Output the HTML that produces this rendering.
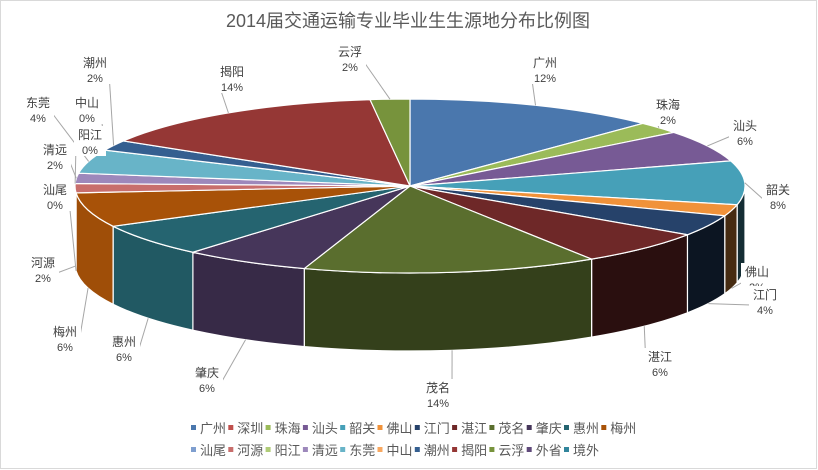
<!DOCTYPE html>
<html><head><meta charset="utf-8">
<style>
html,body{margin:0;padding:0;background:#fff;}
#chart{position:relative;width:818px;height:470px;overflow:hidden;font-family:"Liberation Sans","Noto Sans CJK SC",sans-serif;}
svg text{font-family:"Liberation Sans","Noto Sans CJK SC",sans-serif;}
</style></head>
<body>
<div id="chart">
<svg id="svg" width="818" height="470" viewBox="0 0 818 470">
<rect x="0.5" y="0.5" width="816" height="468" fill="#fff" stroke="#d9d9d9"/>
<text x="408" y="27" text-anchor="middle" font-size="18" fill="#595959">2014届交通运输专业毕业生生源地分布比例图</text>
<g id="sides"></g><g id="tops"></g><g id="lines"></g><g id="labels"></g><g id="legend"></g>
</svg>
</div>
<script>
const categories = ["广州","深圳","珠海","汕头","韶关","佛山","江门","湛江","茂名","肇庆","惠州","梅州","汕尾","河源","阳江","清远","东莞","中山","潮州","揭阳","云浮","外省","境外"];
const values = [12.2,0,2.2,5.9,8.1,2.1,3.9,6.4,14.2,6.1,6.1,6.4,0,1.7,0,1.9,4.4,0,1.9,14.4,1.9,0,0];
const pctLabels = ["12%","0%","2%","6%","8%","2%","4%","6%","14%","6%","6%","6%","0%","2%","0%","2%","4%","0%","2%","14%","2%","0%","0%"];
const colors = ["#4a77ad","#c0504d","#9bbb59","#775a95","#46a0b8","#f0923a","#26426a","#6e2828","#5a6e2e","#46365a","#256470","#a85208","#7f9fcf","#c86e6c","#b0cc78","#9d88bb","#68b4c8","#f8a860","#355f90","#953735","#77933c","#604a7b","#31859c"];
// label layout (positions are layout, keyed by category)
const labelPos = {"广州":[545,67],"珠海":[668,109],"汕头":[745,130],"韶关":[778,194],"佛山":[757,276],"江门":[765,299],"湛江":[660,361],"茂名":[438,392],"肇庆":[207,377],"惠州":[124,346],"梅州":[65,336],"河源":[43,267],"汕尾":[55,194],"清远":[55,154],"东莞":[38,107],"中山":[87,107],"阳江":[90,139],"潮州":[95,67],"揭阳":[232,76],"云浮":[350,56]};

const NS="http://www.w3.org/2000/svg";
const cx=410, cy=186, rx=335, ry=87, depth=78;
const total = values.reduce((a,b)=>a+b,0);
function P(t,dy){const r=t*Math.PI/180;return [cx+rx*Math.sin(r), cy-ry*Math.cos(r)+(dy||0)];}
function shade(hex,f){const n=parseInt(hex.slice(1),16);const c=[(n>>16)&255,(n>>8)&255,n&255].map(v=>Math.round(v*f));return "rgb("+c.join(",")+")";}
function mk(tag,attrs){const e=document.createElementNS(NS,tag);for(const k in attrs)e.setAttribute(k,attrs[k]);return e;}
const sides=document.getElementById('sides'),tops=document.getElementById('tops'),lines=document.getElementById('lines'),labels=document.getElementById('labels'),legend=document.getElementById('legend');

let acc=0; const slices=[];
values.forEach((v,i)=>{const a0=acc/total*360;acc+=v;const a1=acc/total*360;slices.push([a0,a1]);});

slices.forEach(([a0,a1],i)=>{
  if(a1-a0<=0) return;
  const s0=Math.max(a0,90), s1=Math.min(a1,270);
  if(s1>s0){
    const p0=P(s0),p1=P(s1),q1=P(s1,depth),q0=P(s0,depth);
    const lg=(s1-s0)>180?1:0;
    const mid=(s0+s1)/2;
    const f=0.62-0.34*Math.sin(mid*Math.PI/180);
    const path=mk('path',{d:`M${p0[0]},${p0[1]} A${rx},${ry} 0 ${lg} 1 ${p1[0]},${p1[1]} L${q1[0]},${q1[1]} A${rx},${ry} 0 ${lg} 0 ${q0[0]},${q0[1]} Z`,fill:shade(colors[i],Math.min(1,f)),stroke:'#fff','stroke-width':1.2});
    
    
    sides.appendChild(path);
  }
});
slices.forEach(([a0,a1],i)=>{
  if(a1-a0<=0) return;
  const p0=P(a0),p1=P(a1);const lg=(a1-a0)>180?1:0;
  const path=mk('path',{d:`M${cx},${cy} L${p0[0]},${p0[1]} A${rx},${ry} 0 ${lg} 1 ${p1[0]},${p1[1]} Z`,fill:colors[i],stroke:'#fff','stroke-width':1.2});
  
  
  tops.appendChild(path);
});
slices.forEach(([a0,a1],i)=>{
  const lp=labelPos[categories[i]]; if(!lp) return;
  const mid=(a0+a1)/2;
  const front = mid>90 && mid<270;
  const e = front ? P(mid,depth) : P(mid);
  const tx=lp[0], ty=lp[1]+6;
  const ln=mk('polyline',{points:`${e[0]},${e[1]} ${tx+(e[0]>tx?14:-14)},${ty} `,fill:'none',stroke:'#a6a6a6','stroke-width':1});
  
  
  lines.appendChild(ln);
  const bg=mk('rect',{x:tx-16,y:lp[1]-13,width:32,height:30,fill:'#fff'});
  
  
  labels.appendChild(bg);
  const t1=mk('text',{x:tx,y:lp[1],'text-anchor':'middle','font-size':12,fill:'#404040'});
  t1.textContent=categories[i];
  
  
  labels.appendChild(t1);
  const t2=mk('text',{x:tx,y:lp[1]+15,'text-anchor':'middle','font-size':11,fill:'#404040'});
  t2.textContent=pctLabels[i];
  
  
  labels.appendChild(t2);
});
categories.forEach((c,i)=>{
  const row=i<12?0:1, col=i<12?i:i-12;
  const x=191+col*37.3, y=row?450:428;
  const m=mk('rect',{x:x,y:y-3,width:5,height:5,fill:colors[i]});
  
  
  legend.appendChild(m);
  const t=mk('text',{x:x+9,y:y+5,'font-size':13,fill:'#595959'});
  t.textContent=c;
  
  
  legend.appendChild(t);
});
</script>
</body></html>
